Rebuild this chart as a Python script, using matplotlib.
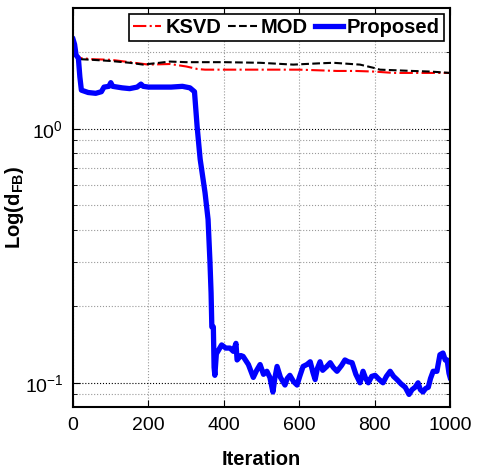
import numpy as np
import matplotlib.pyplot as plt
from matplotlib.ticker import LogLocator, NullFormatter

plt.rcParams['font.family'] = ['Liberation Sans', 'DejaVu Sans']
plt.rcParams['mathtext.fontset'] = 'custom'
plt.rcParams['mathtext.rm'] = 'Liberation Sans'
plt.rcParams['mathtext.bf'] = 'Liberation Sans:bold'

# values
ksvd_it = [0, 10, 20, 50, 100, 150, 200, 257, 300, 330, 350, 400, 500, 600, 650, 700, 750, 800, 850, 900, 1000]
ksvd_val = [2.05, 1.95, 1.9, 1.88, 1.87, 1.83, 1.79, 1.80, 1.76, 1.72, 1.71, 1.71, 1.71, 1.71, 1.70, 1.69, 1.69, 1.68, 1.66, 1.66, 1.66]

mod_it = [0, 10, 20, 50, 100, 150, 186, 257, 300, 350, 400, 496, 584, 650, 690, 761, 796, 814, 900, 950, 1000]
mod_val = [2.0, 1.9, 1.88, 1.87, 1.85, 1.82, 1.79, 1.84, 1.83, 1.83, 1.83, 1.82, 1.79, 1.81, 1.82, 1.79, 1.74, 1.71, 1.69, 1.68, 1.66]

prop_it = [0, 4, 8, 14, 18, 22, 40, 60, 75, 82, 95, 100, 105, 130, 150, 170, 180, 186, 200, 230,
           260, 290, 310, 322, 329, 337, 350, 358, 363, 366, 368, 372, 374, 376, 380, 394, 405, 416,
           425, 432, 435, 445, 451, 465, 478, 487, 496, 505, 514, 522, 530, 535, 541, 550, 562, 568,
           575, 585, 594, 602, 610, 620, 629, 636, 642, 648, 655, 662, 673, 682, 690, 700, 712, 721,
           730, 740, 750, 761, 769, 776, 783, 792, 801, 812, 822, 831, 841, 850, 859, 870, 881, 891,
           899, 907, 915, 921, 928, 935, 942, 948, 955, 965, 973, 981, 987, 992, 997, 1000]
prop_val = [2.25, 2.15, 1.95, 1.9, 1.6, 1.42, 1.39, 1.38, 1.40, 1.46, 1.47, 1.52, 1.47, 1.45, 1.44, 1.46, 1.50, 1.47, 1.46, 1.46,
            1.46, 1.47, 1.45, 1.40, 1.02, 0.76, 0.56, 0.44, 0.30, 0.226, 0.166, 0.166, 0.115, 0.107, 0.13, 0.141, 0.137, 0.137,
            0.133, 0.143, 0.123, 0.128, 0.127, 0.118, 0.105, 0.112, 0.118, 0.108, 0.111, 0.105, 0.092, 0.104, 0.116, 0.105, 0.098, 0.104,
            0.107, 0.101, 0.098, 0.107, 0.116, 0.118, 0.121, 0.11, 0.103, 0.114, 0.121, 0.112, 0.116, 0.12, 0.115, 0.111, 0.117, 0.123,
            0.121, 0.12, 0.108, 0.1, 0.111, 0.104, 0.1, 0.106, 0.107, 0.103, 0.1, 0.106, 0.111, 0.106, 0.103, 0.099, 0.096, 0.09,
            0.094, 0.096, 0.1, 0.094, 0.092, 0.095, 0.096, 0.104, 0.111, 0.111, 0.129, 0.131, 0.123, 0.123, 0.109, 0.105]

fig = plt.figure(figsize=(4.84, 4.72), dpi=100)
ax = fig.add_axes([0.151, 0.138, 0.779, 0.845])

ax.semilogy(ksvd_it, ksvd_val, color='red', ls='-.', lw=1.5, label='KSVD')
ax.semilogy(mod_it, mod_val, color='black', ls='--', lw=1.5, label='MOD')
ax.semilogy(prop_it, prop_val, color='blue', ls='-', lw=3.8, label='Proposed')

ax.set_xlim(0, 1000)
ax.set_ylim(0.0804, 2.99)
ax.set_xticks([0, 200, 400, 600, 800, 1000])
ax.yaxis.set_major_locator(LogLocator(base=10, numticks=5))
ax.yaxis.set_minor_locator(LogLocator(base=10, subs=np.arange(2, 10), numticks=20))
ax.yaxis.set_minor_formatter(NullFormatter())

ax.grid(True, which='major', axis='y', ls=':', color='black', lw=0.8)
ax.grid(True, which='minor', axis='y', ls=':', color='#999999', lw=0.8)
ax.grid(True, which='major', axis='x', ls=':', color='#999999', lw=0.8)

ax.tick_params(which='both', direction='in', top=True, right=True, labelsize=14)
ax.tick_params(which='major', length=5, pad=7)
ax.tick_params(which='minor', length=3)
for s in ax.spines.values():
    s.set_linewidth(1.5)

ax.set_xlabel('Iteration', fontsize=14.5, fontweight='bold', labelpad=12)
ax.set_ylabel(r'Log(d$_{\mathbf{FB}}$)', fontsize=14.5, fontweight='bold')
ax.yaxis.set_label_coords(-0.125, 0.5)

leg = ax.legend(loc='upper right', ncol=3, prop={'weight': 'bold', 'size': 14.5},
                handlelength=1.4, handletextpad=0.2, columnspacing=0.35, borderpad=0.2,
                borderaxespad=0.3, fancybox=False, framealpha=1)
leg.get_frame().set_edgecolor('black')
leg.get_frame().set_linewidth(1.2)

fig.savefig('out.png', dpi=100)
